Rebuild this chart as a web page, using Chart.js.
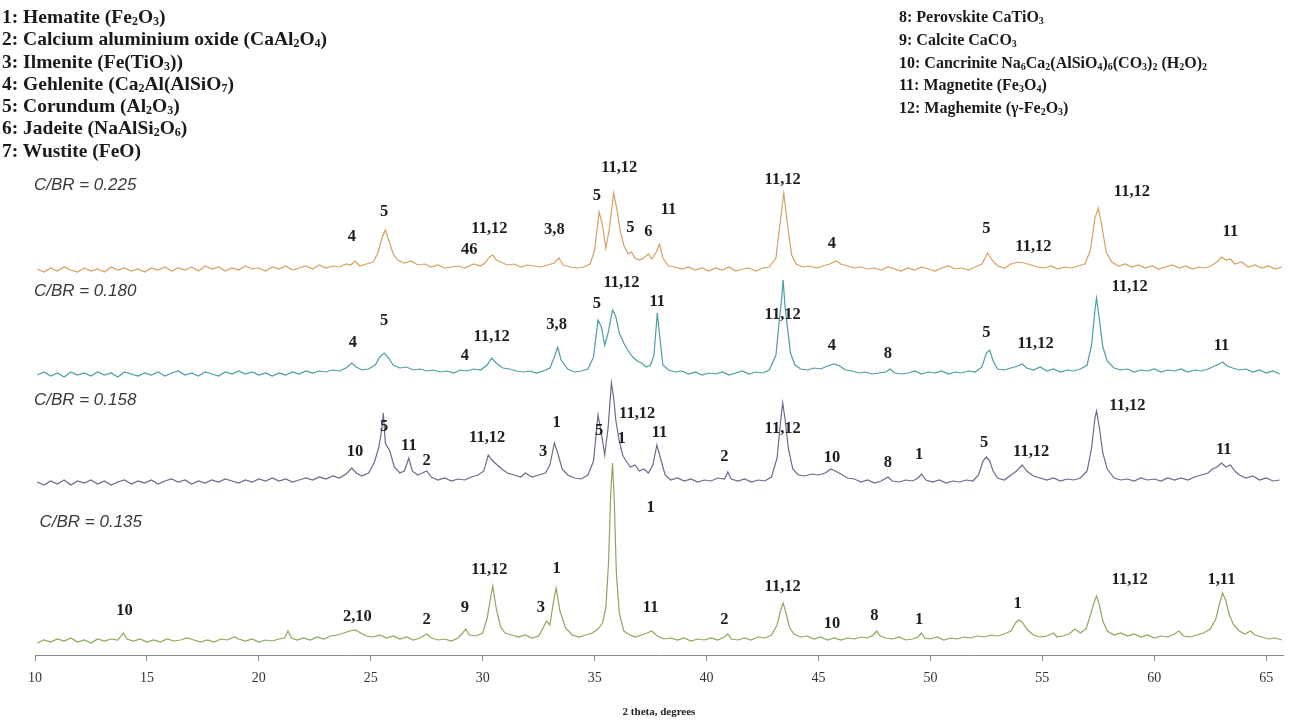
<!DOCTYPE html>
<html>
<head>
<meta charset="utf-8">
<script src="https://cdn.jsdelivr.net/npm/chart.js@4.4.0/dist/chart.umd.min.js"></script>
<style>
  html, body { margin: 0; padding: 0; background: #fff; }
  body { width: 1293px; height: 721px; position: relative; overflow: hidden; }
  #c { position: absolute; left: 0; top: 0; }
  .leg { position: absolute; font-family: "Liberation Serif", "DejaVu Serif", serif; font-weight: bold; color: #1a1a1a; white-space: nowrap; }
  .legL { font-size: 19.5px; }
  .legL div { height: 22.3px; line-height: 22.3px; }
  .legL sub { font-size: 12px; vertical-align: -2px; line-height: 0; }
  .legR { font-size: 16px; }
  .legR div { height: 22.8px; line-height: 22.8px; }
  .legR sub { font-size: 10px; vertical-align: -2px; line-height: 0; }
</style>
</head>
<body>
<canvas id="c" width="1293" height="721"></canvas>
<div class="leg legL" style="left:2px; top:6px;">
  <div>1: Hematite (Fe<sub>2</sub>O<sub>3</sub>)</div>
  <div>2: Calcium aluminium oxide (CaAl<sub>2</sub>O<sub>4</sub>)</div>
  <div>3: Ilmenite (Fe(TiO<sub>3</sub>))</div>
  <div>4: Gehlenite (Ca<sub>2</sub>Al(AlSiO<sub>7</sub>)</div>
  <div>5: Corundum (Al<sub>2</sub>O<sub>3</sub>)</div>
  <div>6: Jadeite (NaAlSi<sub>2</sub>O<sub>6</sub>)</div>
  <div>7: Wustite (FeO)</div>
</div>
<div class="leg legR" style="left:899px; top:6px;">
  <div>8: Perovskite CaTiO<sub>3</sub></div>
  <div>9: Calcite CaCO<sub>3</sub></div>
  <div>10: Cancrinite Na<sub>6</sub>Ca<sub>2</sub>(AlSiO<sub>4</sub>)<sub>6</sub>(CO<sub>3</sub>)<sub>2</sub> (H<sub>2</sub>O)<sub>2</sub></div>
  <div>11: Magnetite (Fe<sub>3</sub>O<sub>4</sub>)</div>
  <div>12: Maghemite (γ-Fe<sub>2</sub>O<sub>3</sub>)</div>
</div>
<script>
// ---- Data: [2theta (deg), intensity above own baseline] ----
const seriesNames = ["C/BR = 0.135", "C/BR = 0.158", "C/BR = 0.180", "C/BR = 0.225"];
const xTicks = [10, 15, 20, 25, 30, 35, 40, 45, 50, 55, 60, 65];

const cbr225 = [[10.1,1],[10.4,-2],[10.7,2],[11.0,-1],[11.3,3],[11.6,0],[11.9,-2],[12.2,2],[12.5,-1],[12.8,1],[13.1,-2],[13.4,3],[13.7,0],[14.0,2],[14.3,-1],[14.6,1],[14.9,-2],[15.2,2],[15.5,0],[15.8,3],[16.1,-1],[16.4,2],[16.7,0],[17.0,3],[17.3,-1],[17.6,4],[17.9,1],[18.2,3],[18.5,-1],[18.8,2],[19.1,0],[19.4,4],[19.7,1],[20.0,2],[20.3,-1],[20.6,3],[20.9,1],[21.2,4],[21.5,0],[21.8,2],[22.1,4],[22.4,1],[22.7,5],[23.0,2],[23.3,4],[23.6,3],[23.9,6],[24.1,5],[24.3,9],[24.5,4],[24.8,6],[25.1,8],[25.3,16],[25.5,32],[25.65,40],[25.8,30],[26.0,16],[26.2,10],[26.5,7],[26.8,9],[27.1,5],[27.4,6],[27.7,3],[28.0,5],[28.3,2],[28.6,3],[28.9,4],[29.2,2],[29.6,6],[29.9,4],[30.1,7],[30.3,13],[30.45,15],[30.6,10],[30.8,8],[31.1,5],[31.4,6],[31.7,3],[32.0,5],[32.3,4],[32.6,3],[32.9,5],[33.2,7],[33.4,12],[33.6,5],[33.9,3],[34.2,2],[34.5,3],[34.8,6],[35.0,20],[35.2,58],[35.35,45],[35.5,22],[35.65,40],[35.85,77],[36.0,60],[36.15,38],[36.3,25],[36.5,16],[36.65,18],[36.8,12],[37.0,10],[37.2,12],[37.4,16],[37.55,11],[37.75,18],[37.9,26],[38.05,12],[38.3,4],[38.6,3],[38.9,1],[39.2,3],[39.5,0],[39.8,2],[40.1,-1],[40.4,2],[40.7,0],[41.0,3],[41.3,-1],[41.6,1],[41.9,2],[42.2,-1],[42.5,2],[42.8,3],[43.1,12],[43.3,50],[43.45,77],[43.6,48],[43.8,15],[44.0,6],[44.3,3],[44.6,4],[44.9,2],[45.2,4],[45.5,6],[45.8,9],[46.0,6],[46.3,4],[46.6,2],[46.9,3],[47.2,1],[47.5,2],[47.8,0],[48.1,3],[48.4,1],[48.7,-1],[49.0,2],[49.3,0],[49.6,3],[49.9,1],[50.2,-1],[50.5,2],[50.8,4],[51.1,1],[51.4,2],[51.7,0],[52.0,3],[52.3,6],[52.55,17],[52.75,10],[53.0,4],[53.3,2],[53.6,6],[53.9,8],[54.2,7],[54.5,5],[54.8,3],[55.1,2],[55.4,4],[55.7,1],[56.0,3],[56.3,2],[56.6,4],[56.9,6],[57.15,20],[57.35,52],[57.5,62],[57.65,45],[57.85,18],[58.1,8],[58.4,4],[58.7,6],[59.0,3],[59.3,5],[59.6,2],[59.9,4],[60.2,1],[60.5,3],[60.8,5],[61.1,2],[61.4,4],[61.7,1],[62.0,3],[62.3,2],[62.6,5],[62.85,9],[63.0,13],[63.2,10],[63.4,11],[63.6,6],[63.9,8],[64.2,3],[64.5,5],[64.8,2],[65.1,4],[65.4,1],[65.7,3]];

const cbr180 = [[10.1,0],[10.4,3],[10.7,-1],[11.0,2],[11.3,-2],[11.6,3],[11.9,0],[12.2,2],[12.5,-1],[12.8,3],[13.1,0],[13.4,2],[13.7,-2],[14.0,3],[14.3,1],[14.6,-1],[14.9,2],[15.2,0],[15.5,3],[15.8,-1],[16.1,2],[16.4,4],[16.7,0],[17.0,2],[17.3,-1],[17.6,3],[17.9,1],[18.2,-1],[18.5,3],[18.8,1],[19.1,4],[19.4,1],[19.7,3],[20.0,0],[20.3,2],[20.6,-1],[20.9,2],[21.2,0],[21.5,3],[21.8,1],[22.1,4],[22.4,2],[22.7,4],[23.0,3],[23.3,5],[23.6,4],[23.9,7],[24.15,12],[24.35,8],[24.6,5],[24.9,6],[25.2,10],[25.4,18],[25.6,22],[25.8,17],[26.0,10],[26.3,7],[26.6,8],[26.9,5],[27.2,6],[27.5,4],[27.8,5],[28.1,3],[28.4,4],[28.7,2],[29.0,5],[29.3,4],[29.6,6],[29.9,5],[30.2,10],[30.4,17],[30.6,12],[30.9,7],[31.2,6],[31.5,4],[31.8,3],[32.1,4],[32.4,2],[32.7,4],[33.0,7],[33.2,18],[33.35,28],[33.5,15],[33.8,6],[34.1,3],[34.4,4],[34.7,6],[34.95,18],[35.15,55],[35.3,48],[35.45,30],[35.6,42],[35.8,65],[35.95,58],[36.1,42],[36.3,32],[36.5,24],[36.7,18],[36.9,14],[37.1,12],[37.3,8],[37.5,10],[37.65,20],[37.8,62],[37.9,40],[38.05,10],[38.3,5],[38.6,3],[38.9,4],[39.2,1],[39.5,3],[39.8,0],[40.1,2],[40.4,1],[40.7,3],[41.0,0],[41.3,2],[41.6,4],[41.9,1],[42.2,3],[42.5,2],[42.8,5],[43.1,20],[43.25,55],[43.35,75],[43.42,95],[43.5,70],[43.6,50],[43.75,22],[43.95,10],[44.2,6],[44.5,5],[44.8,7],[45.1,6],[45.4,9],[45.7,11],[45.95,9],[46.2,5],[46.5,4],[46.8,2],[47.1,3],[47.4,1],[47.7,2],[48.0,3],[48.2,6],[48.4,2],[48.7,1],[49.0,2],[49.3,4],[49.6,1],[49.9,3],[50.2,2],[50.5,4],[50.8,1],[51.1,3],[51.4,2],[51.7,4],[52.0,3],[52.3,8],[52.5,22],[52.65,25],[52.8,14],[53.0,6],[53.3,5],[53.6,7],[53.9,9],[54.1,11],[54.3,7],[54.6,5],[54.9,8],[55.2,4],[55.5,6],[55.8,3],[56.1,5],[56.4,4],[56.7,6],[57.0,10],[57.2,30],[57.35,65],[57.42,77],[57.55,55],[57.7,28],[57.9,14],[58.2,7],[58.5,5],[58.8,6],[59.1,3],[59.4,5],[59.7,4],[60.0,6],[60.3,3],[60.6,5],[60.9,4],[61.2,6],[61.5,3],[61.8,5],[62.1,4],[62.4,6],[62.7,9],[62.9,11],[63.05,13],[63.25,9],[63.5,7],[63.8,5],[64.1,6],[64.4,3],[64.7,5],[65.0,2],[65.3,4],[65.6,1]];

const cbr158 = [[10.1,1],[10.4,-2],[10.7,2],[11.0,-1],[11.3,3],[11.6,-2],[11.9,2],[12.2,0],[12.5,3],[12.8,-1],[13.1,2],[13.4,-2],[13.7,1],[14.0,3],[14.3,-1],[14.6,2],[14.9,0],[15.2,3],[15.5,-1],[15.8,2],[16.1,4],[16.4,1],[16.7,3],[17.0,-1],[17.3,2],[17.6,0],[17.9,3],[18.2,1],[18.5,4],[18.8,2],[19.1,0],[19.4,3],[19.7,1],[20.0,4],[20.3,2],[20.6,5],[20.9,2],[21.2,4],[21.5,1],[21.8,3],[22.1,5],[22.4,3],[22.7,6],[23.0,4],[23.3,7],[23.6,5],[23.9,9],[24.15,15],[24.35,10],[24.6,7],[24.9,10],[25.15,20],[25.35,35],[25.5,55],[25.56,70],[25.65,40],[25.85,32],[26.05,16],[26.3,10],[26.5,12],[26.7,25],[26.85,12],[27.1,8],[27.3,10],[27.5,12],[27.7,6],[28.0,3],[28.3,5],[28.6,2],[28.9,4],[29.2,3],[29.5,6],[29.8,8],[30.05,12],[30.25,28],[30.45,22],[30.65,18],[30.85,14],[31.1,10],[31.4,8],[31.7,6],[31.9,10],[32.2,6],[32.5,8],[32.8,10],[33.0,18],[33.2,40],[33.35,30],[33.55,14],[33.8,8],[34.1,5],[34.4,4],[34.7,8],[34.95,22],[35.15,68],[35.3,50],[35.45,28],[35.6,55],[35.75,100],[35.85,85],[35.95,62],[36.1,42],[36.25,28],[36.4,22],[36.6,16],[36.8,18],[37.0,12],[37.2,14],[37.4,10],[37.6,18],[37.78,38],[37.95,24],[38.15,8],[38.4,3],[38.7,5],[39.0,2],[39.3,4],[39.6,1],[39.9,3],[40.2,2],[40.5,5],[40.8,4],[40.95,11],[41.1,4],[41.4,2],[41.7,4],[42.0,1],[42.3,3],[42.6,2],[42.9,6],[43.15,25],[43.3,60],[43.4,80],[43.5,65],[43.65,35],[43.85,14],[44.1,8],[44.4,7],[44.7,9],[45.0,8],[45.3,10],[45.55,14],[45.75,12],[46.0,9],[46.3,5],[46.6,4],[46.9,1],[47.2,3],[47.5,0],[47.8,2],[48.1,6],[48.3,2],[48.6,1],[48.9,3],[49.2,2],[49.45,5],[49.6,9],[49.8,3],[50.1,1],[50.4,3],[50.7,0],[51.0,2],[51.3,1],[51.6,3],[51.9,2],[52.15,8],[52.35,22],[52.5,26],[52.65,22],[52.8,12],[53.0,5],[53.3,3],[53.6,8],[53.85,12],[54.1,18],[54.3,12],[54.6,7],[54.9,5],[55.2,3],[55.5,5],[55.8,2],[56.1,4],[56.4,3],[56.7,5],[57.0,12],[57.2,35],[57.35,65],[57.42,72],[57.55,55],[57.7,30],[57.9,14],[58.2,5],[58.5,3],[58.8,4],[59.1,2],[59.4,5],[59.7,3],[60.0,4],[60.3,2],[60.6,5],[60.9,3],[61.2,5],[61.5,3],[61.8,6],[62.1,8],[62.4,10],[62.6,14],[62.8,16],[63.0,20],[63.2,16],[63.4,18],[63.6,12],[63.8,8],[64.1,5],[64.4,7],[64.7,3],[65.0,5],[65.3,2],[65.6,3]];

const cbr135 = [[10.1,0],[10.4,3],[10.7,1],[11.0,4],[11.3,2],[11.6,5],[11.9,1],[12.2,3],[12.5,0],[12.8,4],[13.1,2],[13.4,4],[13.7,3],[13.95,10],[14.1,4],[14.4,2],[14.7,4],[15.0,1],[15.3,3],[15.6,1],[15.9,4],[16.2,2],[16.5,3],[16.8,5],[17.1,3],[17.4,1],[17.7,3],[18.0,1],[18.3,4],[18.6,3],[18.9,6],[19.1,4],[19.4,2],[19.7,4],[20.0,1],[20.3,3],[20.6,2],[20.9,4],[21.15,5],[21.3,12],[21.45,5],[21.7,3],[22.0,5],[22.3,3],[22.6,6],[22.9,4],[23.2,7],[23.5,8],[23.8,10],[24.05,12],[24.3,13],[24.55,10],[24.8,7],[25.1,6],[25.4,8],[25.7,5],[26.0,7],[26.3,4],[26.6,6],[26.9,3],[27.2,5],[27.5,9],[27.7,5],[28.0,3],[28.3,4],[28.6,2],[28.9,5],[29.1,10],[29.25,14],[29.4,8],[29.7,7],[30.0,10],[30.2,25],[30.35,45],[30.45,57],[30.6,35],[30.8,16],[31.0,10],[31.3,8],[31.6,6],[31.9,8],[32.2,5],[32.5,7],[32.7,15],[32.85,22],[33.0,18],[33.15,40],[33.28,55],[33.45,32],[33.7,15],[34.0,8],[34.3,6],[34.6,8],[34.9,10],[35.15,14],[35.35,20],[35.5,35],[35.62,80],[35.72,150],[35.8,180],[35.88,140],[35.97,70],[36.1,30],[36.3,12],[36.5,9],[36.8,6],[37.1,8],[37.35,10],[37.55,12],[37.8,7],[38.1,4],[38.4,5],[38.7,3],[39.0,5],[39.3,2],[39.6,4],[39.9,3],[40.2,5],[40.5,3],[40.8,6],[40.95,9],[41.1,4],[41.4,3],[41.7,5],[42.0,3],[42.3,6],[42.6,5],[42.9,8],[43.15,18],[43.3,32],[43.42,40],[43.55,30],[43.7,16],[43.9,9],[44.2,6],[44.5,7],[44.8,4],[45.1,6],[45.4,3],[45.7,5],[46.0,3],[46.3,5],[46.6,4],[46.9,6],[47.2,5],[47.45,8],[47.6,12],[47.75,7],[48.0,5],[48.3,4],[48.6,6],[48.9,3],[49.2,4],[49.45,6],[49.6,10],[49.75,5],[50.0,4],[50.3,6],[50.6,3],[50.9,5],[51.2,4],[51.5,6],[51.8,5],[52.1,7],[52.4,6],[52.7,8],[53.0,7],[53.3,9],[53.6,12],[53.8,20],[53.95,23],[54.1,21],[54.3,14],[54.6,8],[54.9,6],[55.2,7],[55.5,10],[55.65,6],[55.9,7],[56.2,9],[56.45,14],[56.7,10],[56.95,14],[57.15,28],[57.3,40],[57.42,47],[57.55,38],[57.7,22],[57.9,12],[58.2,8],[58.5,10],[58.8,7],[59.1,9],[59.4,6],[59.7,8],[60.0,5],[60.3,7],[60.6,6],[60.9,9],[61.1,12],[61.3,7],[61.6,6],[61.9,8],[62.2,10],[62.5,14],[62.75,24],[62.9,38],[63.05,50],[63.2,42],[63.35,28],[63.55,18],[63.8,12],[64.05,9],[64.3,12],[64.5,8],[64.8,6],[65.1,4],[65.4,5],[65.7,3]];

// Peak labels: [text, 2theta, chart-y]
const labels225 = [["4",24.15,418],["5",25.6,443],["46",29.4,405],["11,12",30.3,426],["3,8",33.2,425],["5",35.1,459],["11,12",36.1,487],["5",36.6,427],["6",37.4,423],["11",38.3,445],["11,12",43.4,475],["4",45.6,411],["5",52.5,426],["11,12",54.6,408],["11,12",59.0,463],["11",63.4,423]];
const labels180 = [["4",24.2,312],["5",25.6,334],["4",29.2,299],["11,12",30.4,318],["3,8",33.3,330],["5",35.1,351],["11,12",36.2,372],["11",37.8,353],["11,12",43.4,340],["4",45.6,309],["8",48.1,301],["5",52.5,322],["11,12",54.7,311],["11,12",58.9,368],["11",63.0,309]];
const labels158 = [["10",24.3,203],["5",25.6,228],["11",26.7,209],["2",27.5,194],["11,12",30.2,217],["3",32.7,203],["1",33.3,232],["5",35.2,224],["11,12",36.9,241],["1",36.2,216],["11",37.9,222],["2",40.8,198],["11,12",43.4,226],["10",45.6,197],["8",48.1,192],["1",49.5,200],["5",52.4,212],["11,12",54.5,203],["11,12",58.8,249],["11",63.1,205]];
const labels135 = [["10",14.0,44],["2,10",24.4,38],["2",27.5,35],["9",29.2,47],["11,12",30.3,85],["3",32.6,47],["1",33.3,86],["1",37.5,147],["11",37.5,47],["2",40.8,35],["11,12",43.4,68],["10",45.6,31],["8",47.5,39],["1",49.5,35],["1",53.9,51],["11,12",58.9,75],["1,11",63.0,75]];

// Series name labels: [text, chart-y]
const nameLabels = [["C/BR = 0.225",470],["C/BR = 0.180",364],["C/BR = 0.158",255],["C/BR = 0.135",133]];

// ---- Build chart ----
const seriesList = [cbr135, cbr158, cbr180, cbr225];
const baselines = [12, 172, 280, 385];
const colors = ["#8DA85A", "#76658C", "#4B9EA8", "#D8A062"];
const allLabels = [labels135, labels158, labels180, labels225];

const datasets = seriesList.map((pts, i) => ({
  label: seriesNames[i],
  data: pts.map(p => ({ x: p[0], y: p[1] + baselines[i] })),
  borderColor: colors[i],
  borderWidth: 1.2,
  pointRadius: 0,
  tension: 0,
  fill: false
}));

const textPlugin = {
  id: 'peakText',
  afterDatasetsDraw(chart) {
    const ctx = chart.ctx;
    const xs = chart.scales.x, ys = chart.scales.y;
    ctx.save();
    ctx.fillStyle = '#1e1e1e';
    ctx.font = 'bold 16.5px "Liberation Serif", serif';
    ctx.textAlign = 'center';
    ctx.textBaseline = 'middle';
    allLabels.forEach(list => list.forEach(([t, x, y]) => {
      ctx.fillText(t, xs.getPixelForValue(x), ys.getPixelForValue(y));
    }));
    ctx.font = 'italic 17px "Liberation Sans", sans-serif';
    ctx.fillStyle = '#3a3a3a';
    ctx.textAlign = 'left';
    nameLabels.forEach(([t, y], i) => {
      ctx.fillText(t, xs.getPixelForValue(i === 3 ? 10.2 : 9.95), ys.getPixelForValue(y));
    });
    ctx.restore();
  }
};

new Chart(document.getElementById('c'), {
  type: 'line',
  data: { datasets },
  options: {
    responsive: false,
    animation: false,
    devicePixelRatio: 1,
    layout: { padding: { left: 35, right: 10, top: 155, bottom: 0 } },
    plugins: { legend: { display: false }, tooltip: { enabled: false } },
    scales: {
      x: {
        type: 'linear',
        min: 10,
        max: 65.75,
        afterBuildTicks: (s) => { s.ticks = xTicks.map(v => ({ value: v })); },
        ticks: {
          font: { family: '"Liberation Serif", serif', size: 14 },
          color: '#333',
          padding: 9,
          maxRotation: 0
        },
        grid: { drawOnChartArea: false, drawTicks: true, tickLength: 6, color: '#888' },
        border: { display: true, color: '#888', width: 1 },
        title: {
          display: true,
          text: '2 theta, degrees',
          font: { family: '"Liberation Serif", serif', size: 11, weight: 'bold' },
          color: '#222',
          padding: { top: 10, bottom: 2 }
        }
      },
      y: { display: false, min: 0, max: 500 }
    }
  },
  plugins: [textPlugin]
});
</script>
</body>
</html>
